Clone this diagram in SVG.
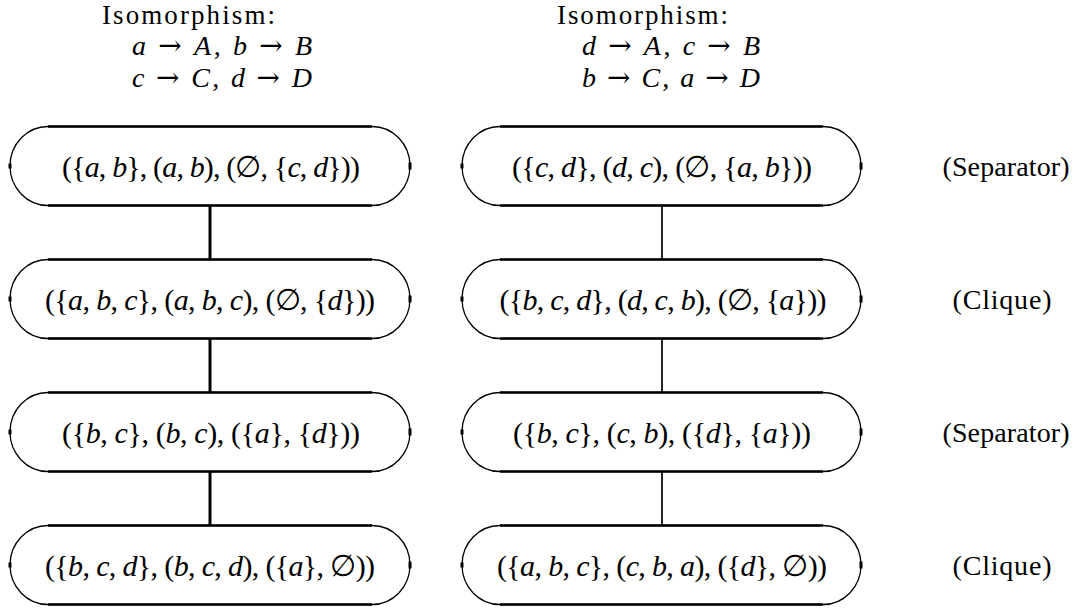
<svg xmlns="http://www.w3.org/2000/svg" xmlns:xlink="http://www.w3.org/1999/xlink" width="1079" height="609" viewBox="0 0 1079 609">
<style>
  text { font-family: "Liberation Serif", "DejaVu Serif", serif; fill: #000; }
  .hd { font-size: 28px; }
  .hd0 { font-size: 27px; }
  .nt { font-size: 30px; text-anchor: middle; }
  .lb { font-size: 28px; text-anchor: middle; }
  .v { font-style: italic; }
  .ar { font-family: "DejaVu Serif", serif; }
  .outline { fill: none; stroke: #000; stroke-width: 1.3; }
  .edge { stroke: #000; stroke-width: 2.6; fill: none; }
  .tick { stroke: #000; stroke-width: 3; }
  .cl { stroke: #000; stroke-width: 3; }
  .cr { stroke: #000; stroke-width: 1.7; }
</style>
<defs>
  <g id="shapeL">
    <path class="outline" d="M48,0 H372 A38,39.5 0 0 1 372,79 H48 A38,39.5 0 0 1 48,0 Z"/>
    <path class="edge" d="M48,0 H372 M48,79 H372"/>
    <path class="tick" d="M410,36 V43 M10,37 V42"/>
  </g>
  <g id="shapeR">
    <path class="outline" d="M500,0 H823 A38,39.5 0 0 1 823,79 H500 A38,39.5 0 0 1 500,0 Z"/>
    <path class="edge" d="M500,0 H823 M500,79 H823"/>
    <path class="tick" d="M861,36 V43 M462,37 V42"/>
  </g>
</defs>

<g id="header-left">
  <text class="hd0" x="102" y="24" textLength="173">Isomorphism:</text>
  <text class="hd" x="132" y="55" textLength="180"><tspan class="v">a</tspan> <tspan class="ar">→</tspan> <tspan class="v">A</tspan>, <tspan class="v">b</tspan> <tspan class="ar">→</tspan> <tspan class="v">B</tspan></text>
  <text class="hd" x="132" y="87" textLength="180"><tspan class="v">c</tspan> <tspan class="ar">→</tspan> <tspan class="v">C</tspan>, <tspan class="v">d</tspan> <tspan class="ar">→</tspan> <tspan class="v">D</tspan></text>
</g>
<g id="header-right">
  <text class="hd0" x="557" y="24" textLength="171">Isomorphism:</text>
  <text class="hd" x="582" y="55" textLength="178"><tspan class="v">d</tspan> <tspan class="ar">→</tspan> <tspan class="v">A</tspan>, <tspan class="v">c</tspan> <tspan class="ar">→</tspan> <tspan class="v">B</tspan></text>
  <text class="hd" x="582" y="87" textLength="178"><tspan class="v">b</tspan> <tspan class="ar">→</tspan> <tspan class="v">C</tspan>, <tspan class="v">a</tspan> <tspan class="ar">→</tspan> <tspan class="v">D</tspan></text>
</g>

<g id="connectors">
  <line class="cl" x1="210" y1="206" x2="210" y2="259"/>
  <line class="cl" x1="210" y1="339" x2="210" y2="392"/>
  <line class="cl" x1="210" y1="472" x2="210" y2="525"/>
  <line class="cr" x1="662" y1="206" x2="662" y2="259"/>
  <line class="cr" x1="662" y1="339" x2="662" y2="392"/>
  <line class="cr" x1="662" y1="472" x2="662" y2="525"/>
</g>

<g id="L1" transform="translate(0,126.5)">
  <use xlink:href="#shapeL"/>
  <text class="nt" x="211" y="50" textLength="298">({<tspan class="v">a</tspan>, <tspan class="v">b</tspan>}, (<tspan class="v">a</tspan>, <tspan class="v">b</tspan>), (∅, {<tspan class="v">c</tspan>, <tspan class="v">d</tspan>}))</text>
</g>
<g id="L2" transform="translate(0,259.5)">
  <use xlink:href="#shapeL"/>
  <text class="nt" x="210" y="50" textLength="330">({<tspan class="v">a</tspan>, <tspan class="v">b</tspan>, <tspan class="v">c</tspan>}, (<tspan class="v">a</tspan>, <tspan class="v">b</tspan>, <tspan class="v">c</tspan>), (∅, {<tspan class="v">d</tspan>}))</text>
</g>
<g id="L3" transform="translate(0,392.5)">
  <use xlink:href="#shapeL"/>
  <text class="nt" x="211" y="50" textLength="298">({<tspan class="v">b</tspan>, <tspan class="v">c</tspan>}, (<tspan class="v">b</tspan>, <tspan class="v">c</tspan>), ({<tspan class="v">a</tspan>}, {<tspan class="v">d</tspan>}))</text>
</g>
<g id="L4" transform="translate(0,525.5)">
  <use xlink:href="#shapeL"/>
  <text class="nt" x="210" y="50" textLength="330">({<tspan class="v">b</tspan>, <tspan class="v">c</tspan>, <tspan class="v">d</tspan>}, (<tspan class="v">b</tspan>, <tspan class="v">c</tspan>, <tspan class="v">d</tspan>), ({<tspan class="v">a</tspan>}, ∅))</text>
</g>

<g id="R1" transform="translate(0,126.5)">
  <use xlink:href="#shapeR"/>
  <text class="nt" x="662" y="50" textLength="300">({<tspan class="v">c</tspan>, <tspan class="v">d</tspan>}, (<tspan class="v">d</tspan>, <tspan class="v">c</tspan>), (∅, {<tspan class="v">a</tspan>, <tspan class="v">b</tspan>}))</text>
</g>
<g id="R2" transform="translate(0,259.5)">
  <use xlink:href="#shapeR"/>
  <text class="nt" x="663" y="50" textLength="327">({<tspan class="v">b</tspan>, <tspan class="v">c</tspan>, <tspan class="v">d</tspan>}, (<tspan class="v">d</tspan>, <tspan class="v">c</tspan>, <tspan class="v">b</tspan>), (∅, {<tspan class="v">a</tspan>}))</text>
</g>
<g id="R3" transform="translate(0,392.5)">
  <use xlink:href="#shapeR"/>
  <text class="nt" x="662" y="50" textLength="298">({<tspan class="v">b</tspan>, <tspan class="v">c</tspan>}, (<tspan class="v">c</tspan>, <tspan class="v">b</tspan>), ({<tspan class="v">d</tspan>}, {<tspan class="v">a</tspan>}))</text>
</g>
<g id="R4" transform="translate(0,525.5)">
  <use xlink:href="#shapeR"/>
  <text class="nt" x="662" y="50" textLength="330">({<tspan class="v">a</tspan>, <tspan class="v">b</tspan>, <tspan class="v">c</tspan>}, (<tspan class="v">c</tspan>, <tspan class="v">b</tspan>, <tspan class="v">a</tspan>), ({<tspan class="v">d</tspan>}, ∅))</text>
</g>

<g id="labels">
  <text class="lb" x="1006" y="176" textLength="127">(Separator)</text>
  <text class="lb" x="1002" y="309" textLength="99">(Clique)</text>
  <text class="lb" x="1006" y="442" textLength="127">(Separator)</text>
  <text class="lb" x="1002" y="575" textLength="99">(Clique)</text>
</g>
</svg>
